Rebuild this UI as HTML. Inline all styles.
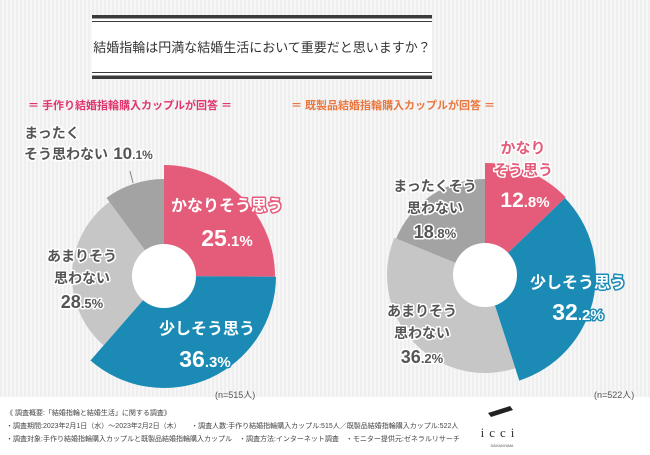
<!DOCTYPE html>
<html><head><meta charset="utf-8"><style>
body{margin:0;width:650px;height:450px;overflow:hidden;font-family:"Liberation Sans","Noto Sans CJK JP",sans-serif;}
</style></head><body>
<svg id="s" width="650" height="450" xmlns="http://www.w3.org/2000/svg" font-family="'Liberation Sans','Noto Sans CJK JP',sans-serif">
<defs><pattern id="st" width="4" height="4" patternUnits="userSpaceOnUse"><rect width="4" height="4" fill="#f6f6f6"/><rect width="2" height="4" fill="#efefef"/></pattern></defs>
<rect width="650" height="450" fill="url(#st)"/>
<rect x="0" y="397" width="650" height="53" fill="#fff"/>
<rect x="92" y="15" width="340" height="64" fill="#fff"/>
<rect x="92" y="15" width="340" height="3.5" fill="#3a3a3a"/>
<rect x="92" y="21" width="340" height="1" fill="#3a3a3a"/>
<rect x="92" y="72" width="340" height="1" fill="#3a3a3a"/>
<rect x="92" y="75.5" width="340" height="3.5" fill="#3a3a3a"/>
<text x="262" y="52" text-anchor="middle" font-size="13" fill="#333">結婚指輪は円満な結婚生活において重要だと思いますか？</text>
<text x="130" y="109" text-anchor="middle" font-size="11" font-weight="bold" fill="#e0356c">＝ 手作り結婚指輪購入カップルが回答 ＝</text>
<text x="393" y="109" text-anchor="middle" font-size="11" font-weight="bold" fill="#e9773f">＝ 既製品結婚指輪購入カップルが回答 ＝</text>
<g id="pies"></g>
<line x1="130" y1="171" x2="133" y2="183" stroke="#888" stroke-width="1"/>
<g font-weight="bold" text-anchor="middle" paint-order="stroke" stroke-linejoin="round">
<g fill="#fff" stroke="#e45c7a" stroke-width="3">
<text x="227" y="211" font-size="16">かなりそう思う</text>
<text x="227" y="246" font-size="23">25<tspan font-size="15">.1%</tspan></text>
<text x="525" y="207" font-size="21">12<tspan font-size="15">.8%</tspan></text>
</g>
<g fill="#e45c7a" stroke="#fff" stroke-width="3">
<text x="523" y="153" font-size="15">かなり</text>
<text x="523" y="175" font-size="15">そう思う</text>
</g>
<g fill="#fff" stroke="#1b8bb5" stroke-width="3">
<text x="207" y="334" font-size="16">少しそう思う</text>
<text x="205" y="367" font-size="23">36<tspan font-size="15">.3%</tspan></text>
<text x="578" y="288" font-size="16">少しそう思う</text>
<text x="578" y="320" font-size="23">32<tspan font-size="15">.2%</tspan></text>
</g>
<g fill="#555" stroke="#fff" stroke-width="3" font-size="14">
<text x="82" y="261">あまりそう</text>
<text x="82" y="283">思わない</text>
<text x="82" y="308" font-size="18">28<tspan font-size="13">.5%</tspan></text>
<text x="435" y="191">まったくそう</text>
<text x="435" y="213">思わない</text>
<text x="435" y="238" font-size="18">18<tspan font-size="13">.8%</tspan></text>
<text x="422" y="316">あまりそう</text>
<text x="422" y="338">思わない</text>
<text x="422" y="363" font-size="18">36<tspan font-size="13">.2%</tspan></text>
<text x="52" y="138">まったく</text>
<text x="66" y="159">そう思わない</text>
<text x="133" y="159" font-size="17">10<tspan font-size="12">.1%</tspan></text>
</g>
</g>
<g font-size="9" fill="#555">
<text x="215" y="398">(n=515人)</text>
<text x="594" y="398">(n=522人)</text>
</g>
<g font-size="7" fill="#444">
<text x="6" y="415">《 調査概要:「結婚指輪と結婚生活」に関する調査》</text>
<text x="6" y="428">・調査期間:2023年2月1日（水）～2023年2月2日（木）　　・調査人数:手作り結婚指輪購入カップル:515人／既製品結婚指輪購入カップル:522人</text>
<text x="6" y="441">・調査対象:手作り結婚指輪購入カップルと既製品結婚指輪購入カップル　・調査方法:インターネット調査　・モニター提供元:ゼネラルリサーチ</text>
</g>
<path d="M488 413 L510 406 L513 410 L491 417 Z" fill="#222"/>
<text x="500" y="437" text-anchor="middle" font-size="13" fill="#333" font-family="'Liberation Serif',serif" letter-spacing="5">icci</text>
<text x="502" y="447" text-anchor="middle" font-size="3.5" fill="#555">DAIKANYAMA</text>
</svg>
<script>
function arc(cx,cy,r,a0,a1){var f=function(a){a=a*Math.PI/180;return [cx+r*Math.sin(a),cy-r*Math.cos(a)];};
var p=f(a0),q=f(a1);return 'M'+cx+' '+cy+' L'+p[0]+' '+p[1]+' A'+r+' '+r+' 0 '+((a1-a0)>180?1:0)+' 1 '+q[0]+' '+q[1]+' Z';}
function pie(cx,cy,d){var s='',a=0;d.forEach(function(x){var e=a+x[0]*3.6;s+='<path d="'+arc(cx,cy,x[1],a,e)+'" fill="'+x[2]+'"/>';a=e;});
s+='<circle cx="'+cx+'" cy="'+cy+'" r="32" fill="#fff"/>';return s;}
var P='#e45c7a',B='#1b8bb5',L='#c6c6c6',D='#a3a3a3';
document.getElementById('pies').innerHTML=pie(164,276,[[25.1,111,P],[36.3,112,B],[28.5,92,L],[10.1,97,D]])+pie(485,275,[[12.8,112,P],[32.2,111,B],[36.2,98,L],[18.8,96,D]]);
</script>
</body></html>
